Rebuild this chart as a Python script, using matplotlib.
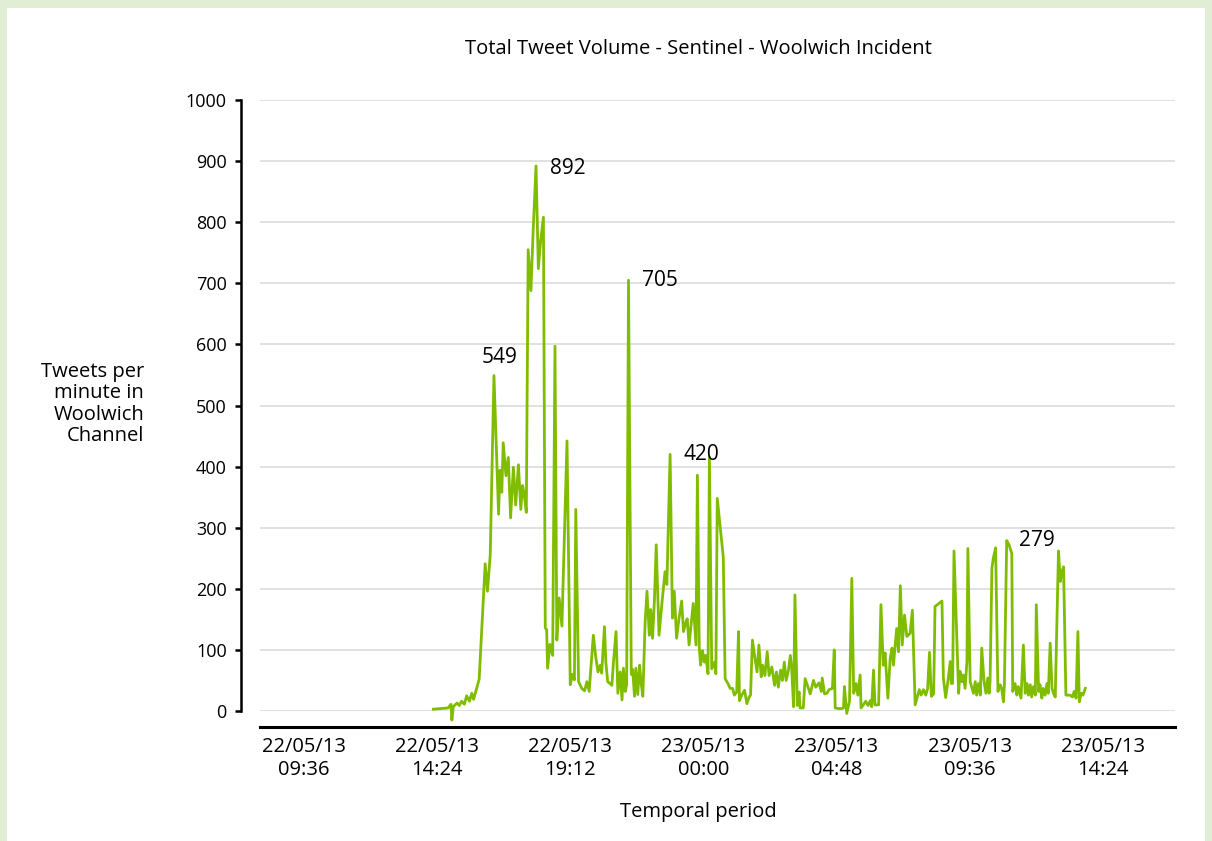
import datetime as dt
import matplotlib
matplotlib.use("Agg")
import matplotlib.pyplot as plt
from matplotlib.patches import Rectangle

plt.rcParams['font.family'] = ['Open Sans', 'DejaVu Sans']

# data: minutes after 22/05/13 14:16, tweets per minute
start = dt.datetime(2013, 5, 22, 14, 16)
minutes = [
    0, 32, 38, 40, 43, 51, 56, 61, 67, 72, 78, 83, 87, 99, 112, 117, 123, 131,
    141, 144, 148, 151, 157, 162, 167, 173, 178, 184, 189, 193, 197, 201, 205,
    211, 216, 222, 227, 232, 238, 242, 245, 247, 252, 258, 263, 267, 272, 278,
    289, 296, 301, 305, 308, 314, 321, 327, 332, 337, 340, 346, 351, 356, 361,
    364, 370, 373, 377, 382, 386, 389, 395, 399, 404, 408, 411, 415, 418, 422,
    428, 431, 435, 438, 442, 446, 449, 453, 458, 462, 467, 470, 474, 478, 482,
    488, 494, 501, 505, 512, 517, 521, 526, 531, 537, 541, 546, 549, 553, 562,
    568, 571, 575, 578, 582, 586, 589, 594, 597, 602, 608, 611, 614, 627, 631,
    637, 642, 647, 651, 656, 660, 662, 667, 673, 678, 683, 686, 690, 694, 700,
    704, 709, 712, 717, 722, 726, 732, 738, 742, 746, 751, 755, 759, 763, 768,
    772, 775, 779, 782, 787, 791, 793, 800, 804, 809, 815, 822, 827, 834, 839,
    841, 846, 851, 856, 863, 867, 869, 876, 883, 887, 889, 894, 900, 905, 909,
    914, 918, 923, 925, 930, 935, 940, 945, 948, 952, 955, 963, 968, 973, 977,
    983, 988, 992, 995, 1002, 1006, 1010, 1014, 1019, 1024, 1031, 1036, 1042,
    1046, 1051, 1055, 1060, 1065, 1069, 1073, 1077, 1082, 1085, 1100, 1103,
    1108, 1113, 1118, 1120, 1123, 1126, 1132, 1136, 1139, 1143, 1146, 1150,
    1154, 1156, 1161, 1165, 1168, 1172, 1175, 1179, 1183, 1186, 1191, 1195,
    1199, 1202, 1204, 1208, 1211, 1216, 1221, 1226, 1229, 1233, 1235, 1240,
    1245, 1251, 1253, 1258, 1262, 1265, 1271, 1276, 1280, 1284, 1287, 1291,
    1294, 1298, 1302, 1304, 1309, 1312, 1316, 1319, 1323, 1327, 1330, 1334,
    1338, 1341, 1345, 1352, 1356, 1359, 1363, 1368, 1377, 1382, 1386, 1390,
    1394, 1397, 1401, 1405, 1410,
]
tweets = [
    3, 5, 11, -15, 7, 13, 9, 16, 11, 25, 16, 29, 19, 52, 241, 196, 256, 549,
    322, 394, 358, 439, 385, 415, 316, 399, 337, 403, 330, 369, 351, 325, 755,
    688, 790, 892, 724, 770, 808, 136, 133, 70, 109, 91, 597, 116, 185, 139,
    442, 43, 60, 51, 330, 48, 37, 33, 48, 32, 64, 124, 89, 64, 75,
    62, 138, 80, 48, 45, 42, 75, 130, 29, 64, 18, 70, 32, 43, 705,
    60, 68, 24, 70, 27, 75, 48, 24, 146, 196, 124, 166, 119, 180, 272,
    124, 174, 228, 207, 420, 152, 196, 119, 150, 180, 130, 145, 151, 108, 176,
    108, 386, 105, 75, 99, 80, 91, 61, 416, 69, 80, 61, 348, 252, 53,
    45, 37, 37, 26, 31, 130, 17, 26, 34, 12, 23, 26, 116, 94, 64,
    108, 56, 75, 58, 97, 58, 72, 42, 64, 39, 67, 50, 80, 50, 67,
    91, 69, 7, 190, 9, 31, 5, 5, 53, 42, 28, 50, 39, 46, 32,
    54, 28, 29, 35, 37, 100, 5, 4, 4, 5, 40, -4, 16, 217, 29,
    45, 26, 59, 5, 10, 16, 9, 17, 7, 67, 10, 10, 174, 75, 95,
    21, 86, 103, 75, 135, 97, 205, 108, 157, 122, 127, 165, 10,
    21, 35, 26, 35, 26, 37, 96, 24, 28, 171, 180, 54,
    22, 50, 81, 45, 45, 262, 125, 29, 65, 48, 59, 37,
    81, 266, 48, 37, 29, 48, 26, 45, 26, 103, 48, 29,
    54, 29, 48, 234, 250, 267, 32, 43, 37, 15, 43, 279,
    272, 258, 32, 45, 26, 40, 21, 108, 29, 45, 26, 43,
    23, 40, 26, 174, 32, 43, 21, 37, 26, 45, 29, 111,
    37, 29, 23, 262, 212, 227, 236, 26, 26, 23, 32, 21,
    130, 15, 29, 26, 37,
]
times = [start + dt.timedelta(minutes=m) for m in minutes]

# peaks that get a number
peak_labels = [549, 892, 705, 420, 279]
peak_offsets = [(4, 13, 'center'), (10, -2, 'left'), (10, 0, 'left'), (10, 0, 'left'), (9, 0, 'left')]

tick_times = [dt.datetime(2013, 5, 22, 9, 36) + k * dt.timedelta(hours=4, minutes=48) for k in range(7)]
tick_labels = [t.strftime('%d/%m/%y\n%H:%M') for t in tick_times]

fig = plt.figure(figsize=(12.12, 8.41), dpi=100)
fig.patch.set_facecolor('#e2edd5')
bg = Rectangle((7 / 1212, 0), 1198 / 1212, 833 / 841, transform=fig.transFigure,
               facecolor='white', edgecolor='none', zorder=-10)
fig.add_artist(bg)

ax = fig.add_axes([260 / 1212, 1 - 711 / 841, 915 / 1212, 611 / 841])
ax.set_facecolor('none')

ax.plot(times, tweets, color='#80bc00', linewidth=2.0, clip_on=False, zorder=3)

for val, (dx, dy, ha) in zip(peak_labels, peak_offsets):
    i = tweets.index(val)
    ax.annotate(str(val), (times[i], tweets[i]), xytext=(dx, dy), textcoords='offset points',
                ha=ha, va='center', fontsize=15, color='black')

ax.set_ylim(0, 1000)
ax.set_yticks(range(0, 1001, 100))
ax.set_xlim(start - dt.timedelta(minutes=375), start + dt.timedelta(minutes=1604))
ax.set_xticks(tick_times)
ax.set_xticklabels(tick_labels, linespacing=1.05)

ax.grid(axis='y', color='#d8d8d8', linewidth=1.1)
ax.yaxis.get_gridlines()[0].set_visible(False)
ax.set_axisbelow(True)

for s in ['top', 'right']:
    ax.spines[s].set_visible(False)
ax.spines['left'].set_position(('outward', 14))
ax.spines['left'].set_bounds(0, 1000)
ax.spines['left'].set_linewidth(1.8)
ax.spines['bottom'].set_position(('outward', 11.5))
ax.spines['bottom'].set_linewidth(2.2)

ax.tick_params(axis='y', length=4, width=1.8, pad=6, labelsize=13)
ax.tick_params(axis='x', length=0, pad=7, labelsize=14.5)

# title and x label sit a bit left of the plot centre
ax.set_title('Total Tweet Volume - Sentinel - Woolwich Incident', fontsize=14.5, pad=33, x=0.479)
ax.set_xlabel('Temporal period', fontsize=14.5, labelpad=16)
ax.xaxis.label.set_x(0.479)
fig.text(144 / 1212, 1 - 404 / 841, 'Tweets per\nminute in\nWoolwich\nChannel',
         ha='right', va='center', fontsize=14.5, linespacing=1.1)

fig.savefig('out.png', dpi=100, facecolor=fig.get_facecolor())
